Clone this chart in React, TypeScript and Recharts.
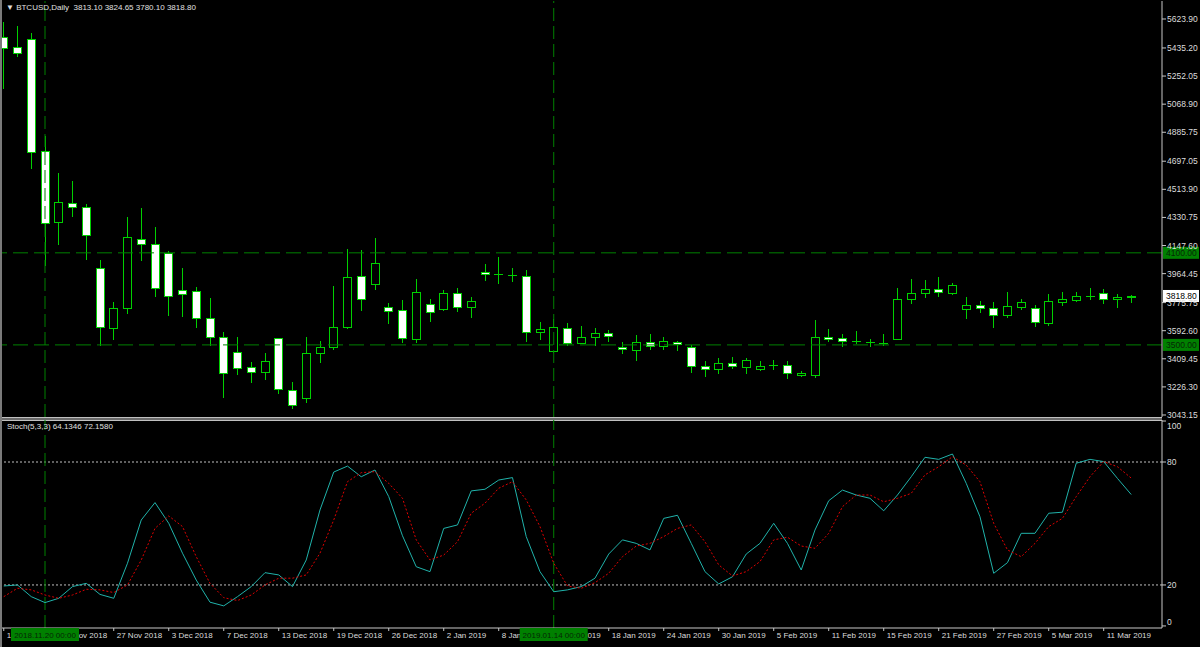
import React from 'react';
import { ComposedChart, Bar, Line, XAxis, YAxis, ReferenceLine } from 'recharts';

// BTCUSD daily, 15 Nov 2018 .. 13 Mar 2019 (weekday bars)
const opens = [
  5507, 5441, 5494, 4764, 4301, 4425, 4399, 4001, 3610, 3741,
  4190, 4158, 4099, 3858, 3851, 3676, 3552, 3454, 3356, 3324,
  3545, 3206, 3154, 3447, 3486, 3617, 3949, 3897, 3747, 3727,
  3539, 3767, 3734, 3838, 3747, 3975, 3962, 3956, 3949, 3584,
  3460, 3610, 3513, 3552, 3578, 3486, 3467, 3519, 3493, 3519,
  3486, 3363, 3343, 3382, 3356, 3343, 3369, 3369, 3304, 3304,
  3552, 3545, 3526, 3519, 3512, 3539, 3799, 3838, 3864, 3838,
  3734, 3760, 3741, 3695, 3747, 3741, 3643, 3780, 3793, 3818,
  3838, 3799, 3813.1,
];
const highs = [
  5604, 5578, 5533, 4861, 4620, 4568, 4418, 4053, 3780, 4334,
  4392, 4268, 4112, 4001, 3877, 3806, 3584, 3552, 3389, 3447,
  3548, 3258, 3552, 3526, 3884, 4125, 4118, 4197, 3773, 3793,
  3929, 3799, 3858, 3871, 3812, 4027, 4073, 4001, 3988, 3649,
  3669, 3643, 3623, 3610, 3597, 3519, 3565, 3571, 3552, 3526,
  3499, 3395, 3415, 3421, 3415, 3395, 3402, 3395, 3330, 3662,
  3604, 3571, 3591, 3539, 3571, 3871, 3929, 3923, 3942, 3903,
  3812, 3786, 3780, 3845, 3799, 3760, 3832, 3845, 3845, 3871,
  3864, 3832, 3824.65,
];
const lows = [
  5174, 5383, 4653, 4021, 4158, 4340, 4060, 3499, 3539, 3708,
  4053, 3819, 3695, 3688, 3617, 3499, 3160, 3310, 3258, 3278,
  3187, 3088, 3128, 3389, 3473, 3610, 3728, 3864, 3643, 3519,
  3519, 3656, 3730, 3721, 3682, 3923, 3903, 3916, 3526, 3539,
  3454, 3499, 3510, 3499, 3526, 3447, 3402, 3473, 3473, 3467,
  3324, 3297, 3317, 3350, 3317, 3336, 3343, 3284, 3300, 3291,
  3526, 3493, 3513, 3493, 3499, 3536, 3773, 3812, 3819, 3832,
  3676, 3715, 3617, 3682, 3734, 3623, 3630, 3760, 3786, 3799,
  3773, 3747, 3780.1,
];
const closes = [
  5435, 5402, 4757, 4294, 4431, 4399, 4216, 3617, 3741, 4203,
  4158, 3871, 3819, 3832, 3676, 3552, 3317, 3350, 3324, 3395,
  3213, 3108, 3447, 3486, 3617, 3942, 3799, 4034, 3721, 3545,
  3845, 3715, 3838, 3747, 3786, 3962, 3960, 3954, 3584, 3604,
  3617, 3513, 3552, 3578, 3558, 3473, 3519, 3493, 3526, 3506,
  3363, 3343, 3382, 3363, 3402, 3363, 3367, 3317, 3317, 3552,
  3539, 3526, 3524, 3520, 3514, 3799, 3838, 3864, 3845, 3890,
  3760, 3741, 3695, 3754, 3780, 3649, 3786, 3799, 3819, 3820,
  3799, 3812, 3818.8,
];

// Stochastic(5,3,3): %K and signal
const stochMain = [
  19.5, 20, 14.3, 11.4, 13.5, 19.2, 20.8, 15.4, 13.5, 30.6,
  51.7, 60.2, 50.1, 35.5, 22.4, 11.6, 9.8, 14.3, 19.2, 26,
  24.9, 19.2, 32.2, 56.6, 75.1, 78, 72.8, 76.1, 63.1, 44,
  28.9, 26.5, 47.6, 49.3, 65.9, 66.7, 71.2, 72.4, 43.6, 26.5,
  16.7, 17.6, 19.2, 23.3, 35.1, 42, 40.3, 37.1, 52.5, 54,
  40.3, 26.5, 20.5, 24, 35.1, 40.3, 50.1, 40.3, 27.3, 46.8,
  61.1, 66.3, 63.9, 62.3, 56.2, 63.9, 72.8, 82.3, 81.3, 83.9,
  69.6, 53.3, 25.7, 30.9, 45.2, 45.2, 55, 55.5, 79.4, 81.3,
  80.2, 72, 64.1346,
];
const stochSignal = [
  14.3, 18.4, 17.6, 15.1, 13.5, 15.1, 17.9, 17.6, 16.3, 20,
  32.2, 47.6, 53.7, 48.5, 33.8, 20.8, 13.8, 12.4, 15.1, 20,
  23.3, 23.3, 24.9, 35.5, 51.7, 70.4, 74.8, 75.3, 69.6, 62.3,
  42, 32.2, 34.6, 41.1, 55, 59.9, 67.2, 70.4, 61.5, 48.5,
  30.6, 19.5, 18.4, 21.1, 25.7, 33.8, 39, 40.3, 43.6, 47.6,
  49.3, 41.1, 29.8, 24.4, 26.5, 31.4, 42, 43.3, 39, 37.9,
  45.2, 58.2, 63.9, 63.9, 60.6, 62.3, 64.7, 73.7, 77.7, 82.6,
  78.5, 70.4, 50.1, 37.1, 33.8, 40.3, 48.5, 52.5, 63.1, 72.8,
  80.2, 77.7, 72.158,
];

// one label every 4 bars, starting at bar 0
const dateLabels = [
  '15 Nov 2018', '21 Nov 2018', '27 Nov 2018', '3 Dec 2018', '7 Dec 2018',
  '13 Dec 2018', '19 Dec 2018', '26 Dec 2018', '2 Jan 2019', '8 Jan 2019',
  '14 Jan 2019', '18 Jan 2019', '24 Jan 2019', '30 Jan 2019', '5 Feb 2019',
  '11 Feb 2019', '15 Feb 2019', '21 Feb 2019', '27 Feb 2019', '5 Mar 2019',
  '11 Mar 2019',
];
const dateTicks = dateLabels.map((_, k) => k * 4);

const priceTicks = [
  5623.9, 5435.2, 5252.05, 5068.9, 4885.75, 4697.05, 4513.9, 4330.75,
  4147.6, 3964.45, 3775.75, 3592.6, 3409.45, 3226.3, 3043.15,
];
const stochTicks = [0, 20, 80, 100];
const hLines = [4100, 3500];
const vLines = [
  { bar: 3, text: '2018.11.20 00:00' },
  { bar: 40, text: '2019.01.14 00:00' },
];

const rows = opens.map((o, i) => ({
  i,
  o,
  h: highs[i],
  l: lows[i],
  c: closes[i],
  range: [lows[i], highs[i]],
  k: stochMain[i],
  d: stochSignal[i],
}));
const last = rows[rows.length - 1];

const FONT = '"Liberation Sans", Arial, sans-serif';
const green = '#00d000';
const lineGreen = '#008000';
const axisFg = '#dcdcdc';
const frame = '#c8c8c8';
const xDomain = [-0.273, 84.24];
const stochDomain = [-1, 100.5];

function Candle(props: any) {
  const { x, y, width, height, payload } = props;
  const { o, h, l, c } = payload;
  const top = Math.min(y, y + height);
  const bot = Math.max(y, y + height);
  const k = h === l ? 0 : (bot - top) / (h - l);
  const py = (v: number) => top + (h - v) * k;
  const cx = Math.round(x + width / 2) + 0.5;
  const bTop = Math.round(py(Math.max(o, c))) + 0.5;
  const bBot = Math.round(py(Math.min(o, c))) + 0.5;
  const bear = c < o;
  return (
    <g>
      <line x1={cx} x2={cx} y1={Math.round(top)} y2={Math.round(bot) + 1} stroke={green} />
      {bBot - bTop < 1 ? (
        <line x1={cx - 4.5} x2={cx + 4.5} y1={bTop} y2={bTop} stroke={green} />
      ) : (
        <rect
          x={cx - 4}
          y={bTop}
          width={8}
          height={bBot - bTop}
          fill={bear ? '#ffffff' : '#000000'}
          stroke={green}
        />
      )}
    </g>
  );
}

function AxisTag(props: any) {
  const { viewBox, text, bg, fg } = props;
  const { x, y, width } = viewBox;
  return (
    <g>
      <rect x={x + width + 1} y={y - 6} width={36} height={12} fill={bg} />
      <text x={x + width + 4} y={y} dy="0.36em" fill={fg} fontSize={8.5} fontFamily={FONT}>
        {text}
      </text>
    </g>
  );
}

function DateBox(props: any) {
  const { viewBox, text } = props;
  const { x, y, height } = viewBox;
  const yb = y + height;
  return (
    <g>
      <rect x={x - 34} y={yb} width={68} height={13} fill={lineGreen} />
      <text x={x} y={yb + 7} dy="0.36em" textAnchor="middle" fill="#062806" fontSize={8} fontFamily={FONT}>
        {text}
      </text>
    </g>
  );
}

function DateTick(props: any) {
  const { x, y, payload } = props;
  const label = dateLabels[Math.round(payload.value / 4)];
  return (
    <text x={x + 3} y={y} dy={7} textAnchor="start" fill={axisFg} fontSize={8} fontFamily={FONT}>
      {label}
    </text>
  );
}

function LevelTick(props: any) {
  const { x, y, payload } = props;
  const yy = Math.min(Math.max(y, 6), 202);
  return (
    <text x={x} y={yy} dy="0.36em" textAnchor="start" fill={axisFg} fontSize={8.5} fontFamily={FONT}>
      {payload.value}
    </text>
  );
}

export default function App() {
  return (
    <div
      style={{
        position: 'absolute',
        left: 0,
        top: 0,
        width: 1200,
        height: 647,
        background: '#000',
        overflow: 'hidden',
        fontFamily: FONT,
      }}
    >
      <div style={{ position: 'absolute', left: 0, top: 0 }}>
        <ComposedChart width={1200} height={424} data={rows} margin={{ top: 1, right: 0, bottom: 7, left: 0 }}>
          <XAxis dataKey="i" type="number" domain={xDomain} allowDataOverflow hide />
          <YAxis
            orientation="right"
            width={38}
            domain={[3030.1, 5741.2]}
            allowDataOverflow
            ticks={priceTicks}
            interval={0}
            tickSize={4}
            tickMargin={1}
            tickLine={{ stroke: frame }}
            axisLine={{ stroke: frame }}
            tick={{ fill: axisFg, fontSize: 8.5, fontFamily: FONT, textAnchor: 'start' }}
            tickFormatter={(v: number) => v.toFixed(2)}
          />
          {hLines.map((p) => (
            <ReferenceLine
              key={p}
              y={p}
              stroke={lineGreen}
              strokeDasharray="15 6"
              label={<AxisTag text={p.toFixed(2)} bg={lineGreen} fg="#062806" />}
            />
          ))}
          {vLines.map((v) => (
            <ReferenceLine key={v.bar} x={v.bar} stroke={lineGreen} strokeDasharray="13 5" />
          ))}
          <Bar
            dataKey="range"
            barSize={9}
            isAnimationActive={false}
            shape={(p: any) => <Candle {...p} />}
          />
          <ReferenceLine
            y={last.c}
            stroke="none"
            label={<AxisTag text={last.c.toFixed(2)} bg="#ffffff" fg="#000000" />}
          />
        </ComposedChart>
      </div>

      <div style={{ position: 'absolute', left: 0, top: 417, width: 1162, height: 1, background: '#c0c0c0' }} />
      <div style={{ position: 'absolute', left: 0, top: 418, width: 1162, height: 2, background: '#6a6a6a' }} />
      <div style={{ position: 'absolute', left: 0, top: 420, width: 1162, height: 1, background: '#c0c0c0' }} />

      <div style={{ position: 'absolute', left: 0, top: 420 }}>
        <ComposedChart width={1200} height={227} data={rows} margin={{ top: 0, right: 0, bottom: 0, left: 0 }}>
          <XAxis
            dataKey="i"
            type="number"
            domain={xDomain}
            allowDataOverflow
            ticks={dateTicks}
            interval={0}
            height={19}
            tickSize={3}
            tickMargin={0}
            tickLine={{ stroke: frame }}
            axisLine={{ stroke: frame }}
            tick={<DateTick />}
          />
          <YAxis
            orientation="right"
            width={38}
            domain={stochDomain}
            allowDataOverflow
            ticks={stochTicks}
            interval={0}
            tickSize={4}
            tickMargin={1}
            tickLine={{ stroke: frame }}
            axisLine={{ stroke: frame }}
            tick={<LevelTick />}
          />
          <ReferenceLine y={80} stroke="#c0c0c0" strokeDasharray="2 2" />
          <ReferenceLine y={20} stroke="#c0c0c0" strokeDasharray="2 2" />
          {vLines.map((v) => (
            <ReferenceLine key={v.bar} x={v.bar} stroke={lineGreen} strokeDasharray="13 5" />
          ))}
          <Line dataKey="k" type="linear" stroke="#20b2aa" strokeWidth={1} dot={false} isAnimationActive={false} />
          <Line
            dataKey="d"
            type="linear"
            stroke="#e00000"
            strokeWidth={1}
            strokeDasharray="2 2"
            dot={false}
            isAnimationActive={false}
          />
        </ComposedChart>
      </div>

      {/* overlay so the crosshair date boxes sit above the time-axis labels */}
      <div style={{ position: 'absolute', left: 0, top: 420, pointerEvents: 'none' }}>
        <ComposedChart width={1200} height={227} data={rows} margin={{ top: 0, right: 38, bottom: 19, left: 0 }}>
          <XAxis dataKey="i" type="number" domain={xDomain} allowDataOverflow hide />
          <YAxis domain={stochDomain} allowDataOverflow hide />
          {vLines.map((v) => (
            <ReferenceLine
              key={v.bar}
              x={v.bar}
              stroke="none"
              label={<DateBox text={v.text} />}
            />
          ))}
        </ComposedChart>
      </div>

      <div style={{ position: 'absolute', left: 0, top: 0, width: 2, height: 647, background: '#7a7a7a' }} />

      <div
        style={{
          position: 'absolute',
          left: 6,
          top: 2,
          fontSize: 8,
          color: '#e0e0e0',
          whiteSpace: 'pre',
          lineHeight: '12px',
        }}
      >
        {'\u25BC BTCUSD,Daily  '}
        {[last.o, last.h, last.l, last.c].map((v) => v.toFixed(2)).join(' ')}
      </div>
      <div
        style={{
          position: 'absolute',
          left: 7,
          top: 421,
          fontSize: 8,
          color: '#e0e0e0',
          whiteSpace: 'pre',
          lineHeight: '12px',
        }}
      >
        {`Stoch(5,3,3) ${last.k.toFixed(4)} ${last.d.toFixed(4)}`}
      </div>
    </div>
  );
}
